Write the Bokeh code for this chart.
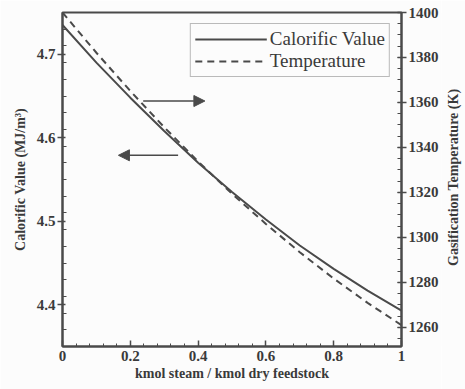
import math
from bokeh.plotting import figure
from bokeh.layouts import row
from bokeh.models import Range1d, LinearAxis, Legend, LegendItem, Arrow, NormalHead, FixedTicker
from bokeh.core.properties import value
from bokeh.embed import file_html
from bokeh.resources import INLINE

# data
steam_ratio = [0.0, 0.1, 0.2, 0.3, 0.4, 0.5, 0.6, 0.7, 0.8, 0.9, 1.0]
calorific_value = [4.735, 4.690, 4.648, 4.608, 4.570, 4.535, 4.502, 4.471, 4.443, 4.417, 4.393]
temperature = [1400.0, 1382.1, 1365.1, 1349.0, 1333.8, 1319.4, 1306.0, 1293.4, 1281.7, 1270.9, 1261.0]

x_ticks = [0, 0.2, 0.4, 0.6, 0.8, 1.0]
cv_ticks = [4.4, 4.5, 4.6, 4.7]
t_ticks = [1260, 1280, 1300, 1320, 1340, 1360, 1380, 1400]

# arrow annotations (x start, x end, y on calorific scale)
arrow_right = (0.238, 0.42, 4.644)
arrow_left = (0.341, 0.165, 4.579)

INK = "#4a4a4a"
TXT = "#3a3a3a"
BG = "#fcfcfc"
SERIF = "Times New Roman"

p = figure(width=441, height=389, output_backend="svg", toolbar_location=None,
           x_range=Range1d(0, 1), y_range=Range1d(4.35, 4.75),
           min_border_left=62, min_border_right=39, min_border_top=12, min_border_bottom=43)
p.background_fill_color = BG
p.border_fill_color = BG
p.outline_line_color = INK
p.outline_line_width = 2
p.grid.visible = False
p.extra_y_ranges = {"T": Range1d(1251.5, 1400)}

cv_line = p.line(steam_ratio, calorific_value, line_color=INK, line_width=2)
t_line = p.line(steam_ratio, temperature, line_color=INK, line_width=2, line_dash="7 5",
                y_range_name="T")

def style_axis(ax):
    ax.axis_line_color = INK
    ax.axis_line_width = 2
    ax.major_tick_line_color = INK
    ax.minor_tick_line_color = INK
    ax.major_tick_line_width = 1.5
    ax.major_label_text_font = SERIF
    ax.major_label_text_font_style = "bold"
    ax.major_label_text_font_size = "15px"
    ax.major_label_text_color = TXT
    ax.axis_label_text_font = SERIF
    ax.axis_label_text_font_style = "bold"
    ax.axis_label_text_font_size = "14px"
    ax.axis_label_text_color = TXT

xa = p.xaxis[0]
style_axis(xa)
xa.ticker = FixedTicker(ticks=x_ticks, minor_ticks=[i * 0.04 for i in range(26)])
xa.major_label_overrides = {0: "0", 1: "1", 1.0: "1"}
xa.major_tick_in = 6
xa.major_tick_out = 0
xa.minor_tick_in = 3
xa.minor_tick_out = 0
xa.major_label_standoff = 4
xa.axis_label = "kmol steam / kmol dry feedstock"
xa.axis_label_standoff = 2

ya = p.yaxis[0]
style_axis(ya)
ya.ticker = FixedTicker(ticks=cv_ticks, minor_ticks=[4.35 + i * 0.02 for i in range(21)])
ya.major_tick_in = 3
ya.major_tick_out = 5
ya.minor_tick_in = 4
ya.minor_tick_out = 0
ya.major_label_standoff = 2
ya.axis_label = "Calorific Value (MJ/m³)"
ya.axis_label_standoff = 6

ra = LinearAxis(y_range_name="T")
style_axis(ra)
ra.ticker = FixedTicker(ticks=t_ticks, minor_ticks=[1255 + i * 5 for i in range(30)])
ra.major_tick_in = 4
ra.major_tick_out = 5
ra.minor_tick_in = 4
ra.minor_tick_out = 0
ra.major_label_standoff = 2
p.add_layout(ra, "right")

for (x0, x1, yv) in (arrow_right, arrow_left):
    p.add_layout(Arrow(x_start=x0, x_end=x1, y_start=yv, y_end=yv,
                       line_color=INK, line_width=1.5,
                       end=NormalHead(size=11, fill_color=INK, line_color=INK)))

legend = Legend(items=[LegendItem(label="Calorific Value", renderers=[cv_line]),
                       LegendItem(label="Temperature", renderers=[t_line])],
                location="top_right", margin=11, padding=4, spacing=0,
                glyph_width=72, glyph_height=18, label_height=18, label_standoff=3,
                label_text_font=SERIF, label_text_font_size="19px", label_text_color=TXT,
                border_line_color="#777777", border_line_width=1.5,
                background_fill_color=BG, background_fill_alpha=1)
p.add_layout(legend)

# narrow strip holding the right axis title, reading bottom to top
p2 = figure(width=24, height=389, output_backend="svg", toolbar_location=None,
            x_range=Range1d(0, 1), y_range=Range1d(0, 389),
            min_border_left=0, min_border_right=0, min_border_top=0, min_border_bottom=0)
p2.axis.visible = False
p2.grid.visible = False
p2.outline_line_color = None
p2.background_fill_color = BG
p2.border_fill_color = BG
p2.text(x=[0.5], y=[389 - 192], text=["Gasification Temperature (K)"], angle=math.pi / 2,
        text_align="center", text_baseline="middle",
        text_font=value(SERIF), text_font_style="bold", text_font_size="14px",
        text_color=TXT)

layout = row(p, p2, spacing=0)
open("out.html", "w").write(file_html(layout, INLINE))
